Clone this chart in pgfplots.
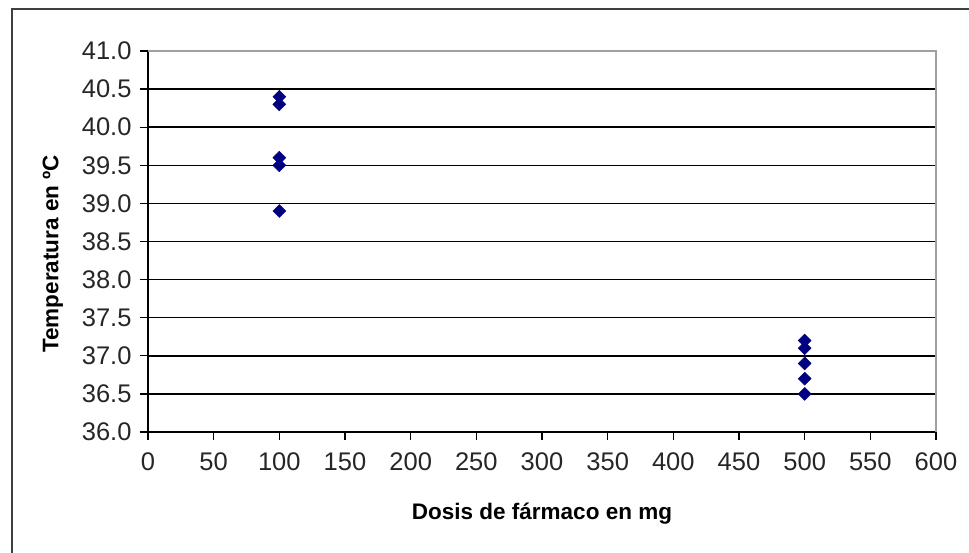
\documentclass[border=0pt]{standalone}
\usepackage{fontspec}
\setmainfont{Liberation Sans}
\usepackage{pgfplots}
\pgfplotsset{compat=1.18}
\definecolor{navymark}{HTML}{000080}
\definecolor{frame}{HTML}{404040}
\definecolor{plotedge}{HTML}{A0A0A0}

\begin{document}
\begin{tikzpicture}
  \path[use as bounding box] (0,0) rectangle (969pt,552pt);
  % chart frame (cut off at right and bottom)
  \draw[frame, line width=2pt] (12pt,-5pt) -- (12pt,543pt) -- (975pt,543pt);
  \begin{axis}[
    at={(148pt,120pt)},
    anchor=south west,
    scale only axis,
    width=788pt,
    height=381pt,
    xmin=0, xmax=600,
    ymin=36, ymax=41,
    xtick={0,50,...,600},
    ytick={36,36.5,...,41},
    axis lines*=left,
    axis line style={black, line width=1.6pt},
    tick align=outside,
    major tick length=8pt,
    tick style={black, line width=1.3pt},
    ymajorgrids,
    grid style={black, line width=1.5pt},
    /pgf/number format/assume math mode=true,
    ticklabel style={font=\fontsize{25.5}{25.5}\selectfont, text=black!85},
    yticklabel style={/pgf/number format/fixed, /pgf/number format/fixed zerofill,
      /pgf/number format/precision=1, xshift=-5pt},
    xticklabel style={yshift=-9pt},
    xlabel={\textbf{Dosis de fármaco en mg}},
    ylabel={\textbf{Temperatura en ºC}},
    label style={font=\fontsize{22.5}{22.5}\selectfont},
    xlabel style={at={(axis description cs:0.5,-0.213)}, anchor=center},
    ylabel style={at={(axis description cs:-0.1206,0.468)}, anchor=center, rotate=0},
    clip=false,
  ]
    \addplot[only marks, mark=square*, mark size=4.6pt,
      mark options={rotate=45, fill=navymark, draw=navymark}]
      coordinates {
        (100,40.4) (100,40.3) (100,39.6) (100,39.5) (100,38.9)
        (500,37.2) (500,37.1) (500,36.9) (500,36.7) (500,36.5)
      };
    \draw[plotedge, line width=1.6pt] (axis cs:0,41) -- (axis cs:600,41) -- (axis cs:600,36);
  \end{axis}
\end{tikzpicture}
\end{document}
